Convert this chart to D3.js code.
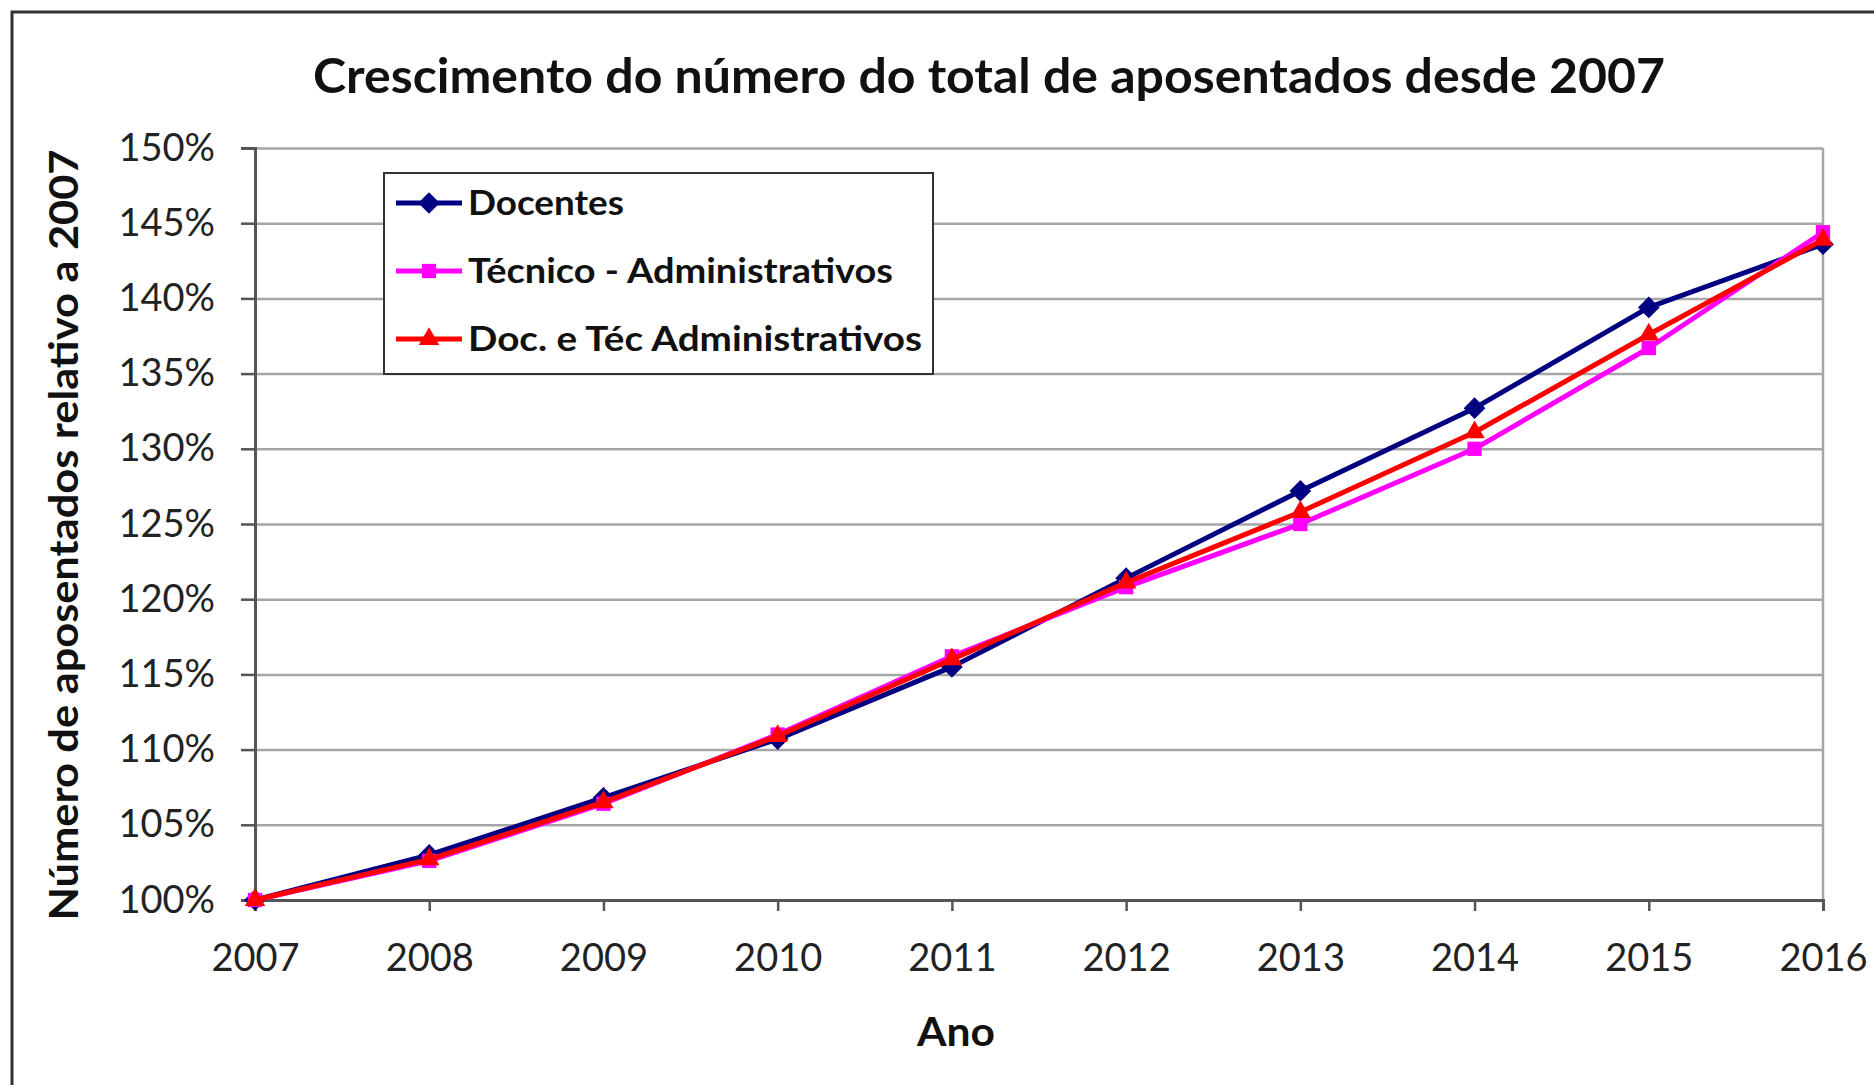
<!DOCTYPE html>
<html>
<head>
<meta charset="utf-8">
<script src="https://cdn.jsdelivr.net/npm/d3@7"></script>
<style>
  body { margin: 0; background: #fff; }
  svg { display: block; font-family: Lato, 'Open Sans', sans-serif; }
</style>
</head>
<body>
<svg id="chart" width="1874" height="1085"></svg>
<script>
// data (percent relative to 2007)
const years = [2007, 2008, 2009, 2010, 2011, 2012, 2013, 2014, 2015, 2016]
const docentes = [100, 103.0, 106.8, 110.7, 115.5, 121.4, 127.2, 132.7, 139.4, 143.6]
const tecnicos = [100, 102.6, 106.4, 111.0, 116.2, 120.8, 125.0, 130.0, 136.7, 144.4]
const docTec = [100, 102.7, 106.5, 110.9, 116.0, 121.1, 125.8, 131.1, 137.6, 143.9]
const yTicks = [100, 105, 110, 115, 120, 125, 130, 135, 140, 145, 150]
const seriesNames = ['Docentes', 'Técnico - Administrativos', 'Doc. e Téc Administrativos']

const series = [
  { name: seriesNames[0], values: docentes, color: '#000080', symbol: d3.symbolDiamond2, size: 300 },
  { name: seriesNames[1], values: tecnicos, color: '#ff00ff', symbol: d3.symbolSquare2, size: 260 },
  { name: seriesNames[2], values: docTec, color: '#ff0000', symbol: d3.symbolTriangle2, size: 300 },
]

const svg = d3.select('#chart')
const margin = { top: 148, right: 51, bottom: 185, left: 255 }
const width = +svg.attr('width') - margin.left - margin.right
const height = +svg.attr('height') - margin.top - margin.bottom

// outer frame
svg.append('rect')
  .attr('x', 12).attr('y', 12).attr('width', 1900).attr('height', 1100)
  .attr('fill', '#fff').attr('stroke', '#333').attr('stroke-width', 3)

// fit a text to a measured width
const fit = (sel, w) => {
  const len = sel.node().getComputedTextLength()
  if (Math.abs(len - w) > 2) sel.attr('textLength', w).attr('lengthAdjust', 'spacingAndGlyphs')
  return sel
}

fit(svg.append('text')
  .attr('x', 989).attr('y', 93)
  .attr('text-anchor', 'middle')
  .attr('font-size', 47).attr('font-weight', 'bold').attr('fill', '#111')
  .text('Crescimento do número do total de aposentados desde 2007'), 1352)

const g = svg.append('g').attr('transform', 'translate(' + margin.left + ',' + margin.top + ')')

const x = d3.scaleLinear().domain([2007, 2016]).range([0, width])
const y = d3.scaleLinear().domain([100, 150]).range([height, 0])

// gridlines
g.append('g')
  .call(d3.axisLeft(y).tickValues(yTicks).tickSize(-width).tickFormat(''))
  .call((a) => a.select('.domain').remove())
  .selectAll('line').attr('stroke', '#a6a6a6').attr('stroke-width', 2.5)

// right border of plot area
g.append('line')
  .attr('x1', width).attr('x2', width).attr('y1', 0).attr('y2', height)
  .attr('stroke', '#a6a6a6').attr('stroke-width', 2.5)

// y axis
const yAxis = g.append('g')
  .call(d3.axisLeft(y).tickValues(yTicks).tickSize(14).tickPadding(26).tickFormat((d) => d + '%'))
yAxis.select('.domain').attr('stroke', '#555').attr('stroke-width', 3)
yAxis.selectAll('.tick line').attr('stroke', '#555').attr('stroke-width', 2.5)
yAxis.selectAll('text').attr('font-size', 38).attr('fill', '#222').attr('font-family', 'Lato')

// x axis
const xAxis = g.append('g')
  .attr('transform', `translate(0, ${height})`)
  .call(d3.axisBottom(x).tickValues(years).tickSize(11).tickPadding(33).tickFormat(d3.format('d')))
xAxis.select('.domain').attr('stroke', '#555').attr('stroke-width', 3)
xAxis.selectAll('.tick line').attr('stroke', '#555').attr('stroke-width', 2.5)
xAxis.selectAll('text').attr('font-size', 38).attr('fill', '#222').attr('font-family', 'Lato')

// axis titles
fit(svg.append('text')
  .attr('x', 956).attr('y', 1046)
  .attr('text-anchor', 'middle')
  .attr('font-size', 41).attr('font-weight', 'bold').attr('fill', '#111')
  .text('Ano'), 78)

fit(svg.append('text')
  .attr('transform', 'translate(78, 535) rotate(-90)')
  .attr('text-anchor', 'middle')
  .attr('font-size', 41).attr('font-weight', 'bold').attr('fill', '#111')
  .text('Número de aposentados relativo a 2007'), 771)

// lines + markers
const line = d3.line()
  .x((d, i) => x(years[i]))
  .y((d) => y(d))

series.forEach((s) => {
  g.append('path')
    .datum(s.values)
    .attr('fill', 'none')
    .attr('stroke', s.color)
    .attr('stroke-width', 5)
    .attr('stroke-linejoin', 'round')
    .attr('d', line)

  g.selectAll(null)
    .data(s.values)
    .enter()
    .append('path')
    .attr('transform', (d, i) => 'translate(' + x(years[i]) + ',' + y(d) + ')')
    .attr('d', d3.symbol().type(s.symbol).size(s.size))
    .attr('fill', s.color)
})

// legend
const legend = svg.append('g').attr('transform', 'translate(384, 173)')
legend.append('rect')
  .attr('width', 549).attr('height', 201)
  .attr('fill', '#fff').attr('stroke', '#333').attr('stroke-width', 2)

const legendWidths = [156, 425, 454]
series.forEach((s, i) => {
  const ly = 30 + i * 68
  legend.append('line')
    .attr('x1', 12).attr('x2', 78).attr('y1', ly).attr('y2', ly)
    .attr('stroke', s.color).attr('stroke-width', 5)
  legend.append('path')
    .attr('transform', 'translate(45,' + ly + ')')
    .attr('d', d3.symbol().type(s.symbol).size(s.size))
    .attr('fill', s.color)
  fit(legend.append('text')
    .attr('x', 84).attr('y', ly + 12)
    .attr('font-size', 34).attr('font-weight', 'bold').attr('fill', '#111')
    .text(s.name), legendWidths[i])
})
</script>
</body>
</html>
